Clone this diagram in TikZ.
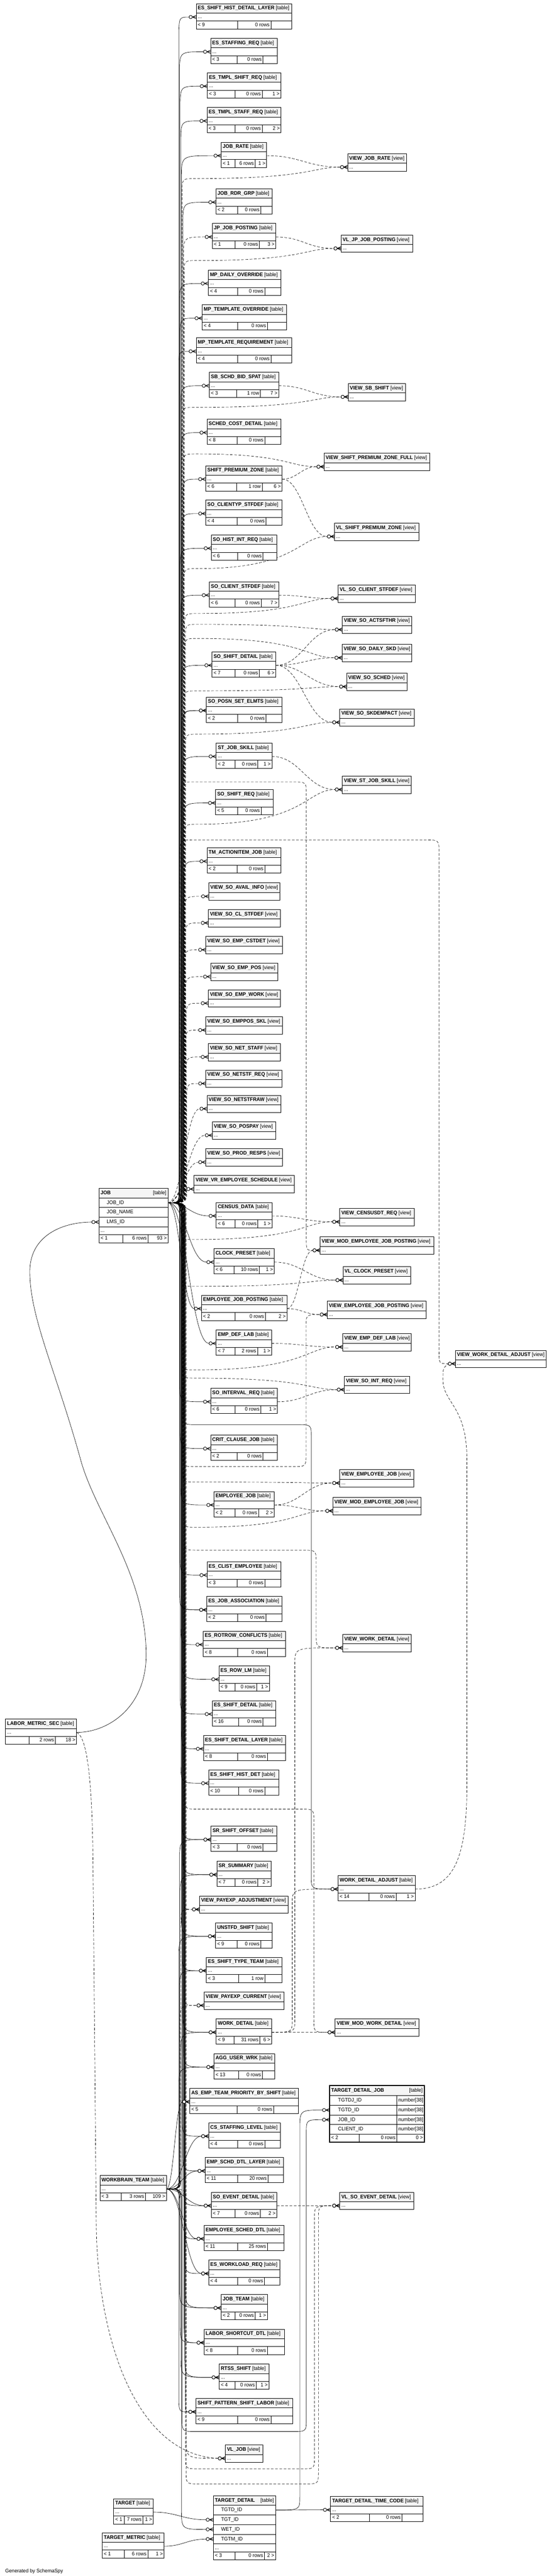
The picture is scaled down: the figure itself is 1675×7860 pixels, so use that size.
\documentclass[tikz,border=0pt]{standalone}
\usepackage{fontspec}
\usetikzlibrary{calc}
\newfontfamily\schemafont{Liberation Sans}[FakeStretch=0.95]

\newlength{\du}
\setlength{\du}{0.01cm}

\pgfdeclarelayer{background}
\pgfdeclarelayer{edges}
\pgfsetlayers{background,edges,main}

\tikzset{
  ssbox/.style={draw, line width=1.2\du, inner sep=0pt, outer sep=0pt, anchor=north west},
  sshead/.style={ssbox, fill=headgray, minimum height=29\du},
  ssrow/.style={ssbox, fill=white, minimum height=24\du},
  sscol/.style={ssbox, fill=white, minimum height=29.5\du},
  sstext/.style={inner sep=0pt, outer sep=0pt, font={\schemafont\fontsize{4.5pt}{5.4pt}\selectfont}, text height=3.3pt, text depth=0.9pt},
  rel/.style={line width=1\du},
  implied/.style={line width=1\du, dash pattern=on 8\du off 5\du},
}

% header + "..." row
\newcommand{\sshdr}[5]{%
  \node[sshead, minimum width=#5\du] (#1) at (#4) {};
  \node[sstext, anchor=west] (#1-t) at ([xshift=5\du]#1.west) {\textbf{#2} [#3]};
  \node[ssrow, minimum width=#5\du] (#1-b) at (#1.south west) {};
  \node[sstext, anchor=west] (#1-d) at ([xshift=5\du]#1-b.west) {...};
}
% footer row
\newcommand{\ssfoot}[6]{%
  \coordinate (#1-f) at (#1-b.south west);
  \draw[line width=1.2\du, fill=white] (#1-f) rectangle ($(#1-b.south east)+(0,24)$);
  \draw[line width=1.2\du] ($(#1-f)+(#2,0)$) -- +(0,24) ($(#1-f)+(#3,0)$) -- +(0,24);
  \node[sstext, anchor=west] (#1-fl) at ($(#1-f)+(5,12)$) {#4};
  \node[sstext, anchor=east] (#1-fm) at ($(#1-f)+(#3-4,12)$) {#5};
  \node[sstext, anchor=east] (#1-fr) at ($(#1-b.south east)+(-4,12)$) {#6};
}
% zero-or-many end
\newcommand{\crowin}[1]{%
  \draw[fill=white] ([xshift=-17\du]#1) circle (5\du);
  \draw ([xshift=-12\du]#1) -- ([yshift=5\du]#1)
        ([xshift=-12\du]#1) -- (#1)
        ([xshift=-12\du]#1) -- ([yshift=-5\du]#1);
}
\newcommand{\nearedge}[3]{%
  \coordinate (ne) at ([xshift=-22\du]#2.west);
  \draw[#3] (#1) .. controls ($(#1)!.45!(ne |- #1)$) and ($(ne)!.45!(#1 |- ne)$) .. (ne);
  \crowin{#2.west}
}
\newcommand{\trunkedge}[6]{%
  \coordinate (ne) at ([xshift=-22\du]#2.west);
  \coordinate (tk) at (#3,0);
  \draw[#6] (#1) .. controls (tk |- #1) .. ($(tk |- #1)+(0,40*#4)$)
    -- ($(tk |- ne)-(0,#5*#4)$) .. controls (tk |- ne) .. (ne);
  \crowin{#2.west}
}
\newcommand{\levedge}[6]{%
  \coordinate (ne) at ([xshift=-22\du]#2.west);
  \coordinate (tk) at (#3,#5);
  \draw[#6] (#1) .. controls (tk |- #1) .. ($(tk |- #1)+(0,40*#4)$)
    -- ($(tk)-(0,40*#4)$) .. controls (tk) .. ($(tk)+(40,0)$)
    .. controls ($(ne |- tk)+(-90,0)$) and ($(ne)+(-90,0)$) .. (ne);
  \crowin{#2.west}
}
\newcommand{\routeedge}[8]{%
  \coordinate (ne) at ([xshift=-22\du]#2.west);
  \coordinate (tk) at (#3,#4);
  \coordinate (rk) at (#5,#4);
  \draw[#8] (#1) .. controls (tk |- #1) .. ($(tk |- #1)+(0,40*#6)$)
    -- ($(tk)-(0,40*#6)$) .. controls (tk) .. ($(tk)+(40,0)$)
    -- ($(rk)-(40,0)$) .. controls (rk) .. ($(rk)+(0,40*#7)$)
    -- ($(rk |- ne)-(0,40*#7)$) .. controls (rk |- ne) .. (ne);
  \crowin{#2.west}
}

\begin{document}
\begin{tikzpicture}[x=1\du, y=-1\du, line width=1\du]
\definecolor{headgray}{rgb}{0.960784, 0.960784, 0.960784}
\useasboundingbox (0,0) rectangle (1675,7860);
\begin{pgfonlayer}{background}
\fill[white] (0,0) rectangle (1675,7860);
\end{pgfonlayer}

\sshdr{eshdl}{ES\_SHIFT\_HIST\_DETAIL\_LAYER}{table}{599,11}{292}
\ssfoot{eshdl}{126}{228}{< 9}{0 rows}{}
\sshdr{esstaff}{ES\_STAFFING\_REQ}{table}{643,117}{203}
\ssfoot{esstaff}{81}{160}{< 3}{0 rows}{}
\sshdr{estsr}{ES\_TMPL\_SHIFT\_REQ}{table}{633,222}{224}
\ssfoot{estsr}{84}{167}{< 3}{0 rows}{1 >}
\sshdr{estst}{ES\_TMPL\_STAFF\_REQ}{table}{632,328}{226}
\ssfoot{estst}{85}{168}{< 3}{0 rows}{2 >}
\sshdr{jobrate}{JOB\_RATE}{table}{675,434}{139}
\ssfoot{jobrate}{42}{104}{< 1}{6 rows}{1 >}
\sshdr{vjobrate}{VIEW\_JOB\_RATE}{view}{1061,469}{180}
\sshdr{jobrdr}{JOB\_RDR\_GRP}{table}{659,576}{172}
\ssfoot{jobrdr}{66}{137}{< 2}{0 rows}{}
\sshdr{jpjob}{JP\_JOB\_POSTING}{table}{648,682}{194}
\ssfoot{jpjob}{69}{144}{< 1}{0 rows}{3 >}
\sshdr{vljpjob}{VL\_JP\_JOB\_POSTING}{view}{1041,717}{218}
\sshdr{mpdaily}{MP\_DAILY\_OVERRIDE}{table}{636,824}{221}
\ssfoot{mpdaily}{89}{172}{< 4}{0 rows}{}
\sshdr{mptmplov}{MP\_TEMPLATE\_OVERRIDE}{table}{617,930}{257}
\ssfoot{mptmplov}{108}{199}{< 4}{0 rows}{}
\sshdr{mptmplreq}{MP\_TEMPLATE\_REQUIREMENT}{table}{599,1031}{292}
\ssfoot{mptmplreq}{126}{228}{< 4}{0 rows}{}
\sshdr{sbbid}{SB\_SCHD\_BID\_SPAT}{table}{639,1136}{212}
\ssfoot{sbbid}{83}{156}{< 3}{1 row}{7 >}
\sshdr{vsbshift}{VIEW\_SB\_SHIFT}{view}{1063,1170}{174}
\sshdr{schedcost}{SCHED\_COST\_DETAIL}{table}{632,1279}{225}
\ssfoot{schedcost}{92}{176}{< 8}{0 rows}{}
\sshdr{vspzfull}{VIEW\_SHIFT\_PREMIUM\_ZONE\_FULL}{view}{989,1383}{322}
\sshdr{spz}{SHIFT\_PREMIUM\_ZONE}{table}{628,1421}{233}
\ssfoot{spz}{94}{172}{< 6}{1 row}{6 >}
\sshdr{soclityp}{SO\_CLIENTYP\_STFDEF}{table}{628,1526}{233}
\ssfoot{soclityp}{96}{184}{< 4}{0 rows}{}
\sshdr{vlspz}{VL\_SHIFT\_PREMIUM\_ZONE}{view}{1021,1596}{258}
\sshdr{sohist}{SO\_HIST\_INT\_REQ}{table}{645,1632}{200}
\ssfoot{sohist}{80}{158}{< 6}{0 rows}{}
\sshdr{soclient}{SO\_CLIENT\_STFDEF}{table}{639,1775}{212}
\ssfoot{soclient}{78}{158}{< 6}{0 rows}{7 >}
\sshdr{vlsoclient}{VL\_SO\_CLIENT\_STFDEF}{view}{1032,1785}{235}
\sshdr{vactsfthr}{VIEW\_SO\_ACTSFTHR}{view}{1045,1880}{211}
\sshdr{vdailyskd}{VIEW\_SO\_DAILY\_SKD}{view}{1044,1966}{212}
\sshdr{soshiftdet}{SO\_SHIFT\_DETAIL}{table}{647,1989}{195}
\ssfoot{soshiftdet}{70}{145}{< 7}{0 rows}{6 >}
\sshdr{vsosched}{VIEW\_SO\_SCHED}{view}{1058,2054}{184}
\sshdr{soposn}{SO\_POSN\_SET\_ELMTS}{table}{630,2127}{231}
\ssfoot{soposn}{95}{182}{< 2}{0 rows}{}
\sshdr{vskdempact}{VIEW\_SO\_SKDEMPACT}{view}{1037,2163}{228}
\sshdr{stjob}{ST\_JOB\_SKILL}{table}{660,2267}{170}
\ssfoot{stjob}{57}{127}{< 2}{0 rows}{1 >}
\sshdr{vstjob}{VIEW\_ST\_JOB\_SKILL}{view}{1045,2368}{210}
\sshdr{soshiftreq}{SO\_SHIFT\_REQ}{table}{658,2409}{175}
\ssfoot{soshiftreq}{67}{139}{< 5}{0 rows}{}
\sshdr{tmaction}{TM\_ACTIONITEM\_JOB}{table}{632,2587}{225}
\ssfoot{tmaction}{92}{176}{< 2}{0 rows}{}
\sshdr{vavail}{VIEW\_SO\_AVAIL\_INFO}{view}{637,2694}{217}
\sshdr{vclstf}{VIEW\_SO\_CL\_STFDEF}{view}{636,2775}{219}
\sshdr{vempcst}{VIEW\_SO\_EMP\_CSTDET}{view}{628,2857}{234}
\sshdr{vemppos}{VIEW\_SO\_EMP\_POS}{view}{643,2939}{205}
\sshdr{vempwork}{VIEW\_SO\_EMP\_WORK}{view}{636,3020}{219}
\sshdr{vempposskl}{VIEW\_SO\_EMPPOS\_SKL}{view}{628,3102}{234}
\sshdr{vnetstaff}{VIEW\_SO\_NET\_STAFF}{view}{636,3184}{219}
\sshdr{vnetstfreq}{VIEW\_SO\_NETSTF\_REQ}{view}{628,3265}{233}
\sshdr{vnetstfraw}{VIEW\_SO\_NETSTFRAW}{view}{632,3342}{225}
\sshdr{vpospay}{VIEW\_SO\_POSPAY}{view}{648,3423}{193}
\sshdr{vprodresps}{VIEW\_SO\_PROD\_RESPS}{view}{628,3505}{234}
\sshdr{vvremp}{VIEW\_VR\_EMPLOYEE\_SCHEDULE}{view}{592,3587}{306}

% JOB
\node[sshead, minimum width=211\du, minimum height=30\du] (job) at (302,3625) {};
\node[sstext, anchor=west] (job-t) at ([xshift=5\du]job.west) {\textbf{JOB}};
\node[sstext, anchor=east] (job-k) at ([xshift=-5\du]job.east) {[table]};
\node[sscol, minimum width=211\du] (job-id) at (job.south west) {};
\node[sstext, anchor=west] (job-id-t) at ([xshift=24\du]job-id.west) {JOB\_ID};
\node[sscol, minimum width=211\du] (job-name) at (job-id.south west) {};
\node[sstext, anchor=west] (job-name-t) at ([xshift=24\du]job-name.west) {JOB\_NAME};
\node[sscol, minimum width=211\du] (job-lms) at (job-name.south west) {};
\node[sstext, anchor=west] (job-lms-t) at ([xshift=24\du]job-lms.west) {LMS\_ID};
\node[ssrow, minimum width=211\du] (job-b) at (job-lms.south west) {};
\node[sstext, anchor=west] (job-d) at ([xshift=5\du]job-b.west) {...};
\ssfoot{job}{73}{150}{< 1}{6 rows}{93 >}

\sshdr{census}{CENSUS\_DATA}{table}{660,3669}{170}
\ssfoot{census}{57}{127}{< 6}{0 rows}{1 >}
\sshdr{vcensus}{VIEW\_CENSUSDT\_REQ}{view}{1037,3687}{228}
\sshdr{vmodejp}{VIEW\_MOD\_EMPLOYEE\_JOB\_POSTING}{view}{977,3774}{347}
\sshdr{clock}{CLOCK\_PRESET}{table}{653,3810}{184}
\ssfoot{clock}{61}{139}{< 6}{10 rows}{1 >}
\sshdr{vlclock}{VL\_CLOCK\_PRESET}{view}{1047,3865}{206}
\sshdr{ejp}{EMPLOYEE\_JOB\_POSTING}{table}{615,3952}{261}
\ssfoot{ejp}{102}{195}{< 2}{0 rows}{2 >}
\sshdr{vejp}{VIEW\_EMPLOYEE\_JOB\_POSTING}{view}{999,3970}{302}
\sshdr{empdef}{EMP\_DEF\_LAB}{table}{660,4058}{169}
\ssfoot{empdef}{57}{126}{< 7}{2 rows}{1 >}
\sshdr{vempdef}{VIEW\_EMP\_DEF\_LAB}{view}{1046,4069}{209}
\sshdr{vwda}{VIEW\_WORK\_DETAIL\_ADJUST}{view}{1390,4120}{277}
\sshdr{vsoint}{VIEW\_SO\_INT\_REQ}{view}{1051,4199}{199}
\sshdr{sointerval}{SO\_INTERVAL\_REQ}{table}{643,4236}{204}
\ssfoot{sointerval}{74}{153}{< 6}{0 rows}{1 >}
\sshdr{critclause}{CRIT\_CLAUSE\_JOB}{table}{643,4379}{203}
\ssfoot{critclause}{80}{160}{< 2}{0 rows}{}
\sshdr{vempjob}{VIEW\_EMPLOYEE\_JOB}{view}{1037,4484}{226}
\sshdr{empjob}{EMPLOYEE\_JOB}{table}{653,4551}{184}
\ssfoot{empjob}{64}{136}{< 2}{0 rows}{2 >}
\sshdr{vmodempjob}{VIEW\_MOD\_EMPLOYEE\_JOB}{view}{1016,4569}{269}
\sshdr{esclist}{ES\_CLIST\_EMPLOYEE}{table}{632,4765}{225}
\ssfoot{esclist}{92}{176}{< 3}{0 rows}{}
\sshdr{esjobassoc}{ES\_JOB\_ASSOCIATION}{table}{631,4871}{229}
\ssfoot{esjobassoc}{94}{181}{< 2}{0 rows}{}
\sshdr{esrotrow}{ES\_ROTROW\_CONFLICTS}{table}{620,4977}{252}
\ssfoot{esrotrow}{105}{196}{< 8}{0 rows}{}
\sshdr{vwd}{VIEW\_WORK\_DETAIL}{view}{1046,4987}{209}
\sshdr{esrowlm}{ES\_ROW\_LM}{table}{668,5083}{154}
\ssfoot{esrowlm}{49}{115}{< 9}{0 rows}{1 >}
\sshdr{esshiftdet}{ES\_SHIFT\_DETAIL}{table}{648,5189}{193}
\ssfoot{esshiftdet}{80}{155}{< 16}{0 rows}{}
\sshdr{lms}{LABOR\_METRIC\_SEC}{table}{17,5245}{217}
\ssfoot{lms}{72}{152}{}{2 rows}{18 >}
\sshdr{esshdlayer}{ES\_SHIFT\_DETAIL\_LAYER}{table}{621,5295}{250}
\ssfoot{esshdlayer}{104}{195}{< 8}{0 rows}{}
\sshdr{esshhist}{ES\_SHIFT\_HIST\_DET}{table}{637,5400}{214}
\ssfoot{esshhist}{91}{171}{< 10}{0 rows}{}
\sshdr{sroffset}{SR\_SHIFT\_OFFSET}{table}{644,5572}{201}
\ssfoot{sroffset}{80}{159}{< 3}{0 rows}{}
\sshdr{srsummary}{SR\_SUMMARY}{table}{662,5679}{165}
\ssfoot{srsummary}{55}{125}{< 7}{0 rows}{2 >}
\sshdr{wda}{WORK\_DETAIL\_ADJUST}{table}{1032,5723}{235}
\ssfoot{wda}{94}{177}{< 14}{0 rows}{1 >}
\sshdr{vpayadj}{VIEW\_PAYEXP\_ADJUSTMENT}{view}{609,5785}{271}
\sshdr{unstfd}{UNSTFD\_SHIFT}{table}{658,5867}{173}
\ssfoot{unstfd}{66}{138}{< 9}{0 rows}{}
\sshdr{esshtype}{ES\_SHIFT\_TYPE\_TEAM}{table}{630,5972}{230}
\ssfoot{esshtype}{98}{178}{< 3}{1 row}{}
\sshdr{vpaycur}{VIEW\_PAYEXP\_CURRENT}{view}{623,6078}{243}
\sshdr{workdet}{WORK\_DETAIL}{table}{660,6160}{169}
\ssfoot{workdet}{54}{133}{< 9}{31 rows}{6 >}
\sshdr{vmodwd}{VIEW\_MOD\_WORK\_DETAIL}{view}{1023,6160}{255}
\sshdr{agguser}{AGG\_USER\_WRK}{table}{653,6266}{186}
\ssfoot{agguser}{75}{148}{< 13}{0 rows}{}
\sshdr{asemp}{AS\_EMP\_TEAM\_PRIORITY\_BY\_SHIFT}{table}{579,6372}{332}
\ssfoot{asemp}{145}{256}{< 5}{0 rows}{}

% TARGET_DETAIL_JOB
\node[sshead, minimum width=289\du, minimum height=30\du] (tdj) at (1006,6364) {};
\node[sstext, anchor=west] (tdj-t) at ([xshift=5\du]tdj.west) {\textbf{TARGET\_DETAIL\_JOB}};
\node[sstext, anchor=east] (tdj-k) at ([xshift=-5\du]tdj.east) {[table]};
\node[sscol, minimum width=289\du] (tdj-tgtdj) at (tdj.south west) {};
\node[sstext, anchor=west] (tdj-tgtdj-t) at ([xshift=26\du]tdj-tgtdj.west) {TGTDJ\_ID};
\node[sstext, anchor=east] (tdj-tgtdj-y) at ([xshift=-3\du]tdj-tgtdj.east) {number[38]};
\node[sscol, minimum width=289\du] (tdj-tgtd) at (tdj-tgtdj.south west) {};
\node[sstext, anchor=west] (tdj-tgtd-t) at ([xshift=26\du]tdj-tgtd.west) {TGTD\_ID};
\node[sstext, anchor=east] (tdj-tgtd-y) at ([xshift=-3\du]tdj-tgtd.east) {number[38]};
\node[sscol, minimum width=289\du] (tdj-job) at (tdj-tgtd.south west) {};
\node[sstext, anchor=west] (tdj-job-t) at ([xshift=26\du]tdj-job.west) {JOB\_ID};
\node[sstext, anchor=east] (tdj-job-y) at ([xshift=-3\du]tdj-job.east) {number[38]};
\node[sscol, minimum width=289\du] (tdj-b) at (tdj-job.south west) {};
\node[sstext, anchor=west] (tdj-b-t) at ([xshift=26\du]tdj-b.west) {CLIENT\_ID};
\node[sstext, anchor=east] (tdj-b-y) at ([xshift=-3\du]tdj-b.east) {number[38]};
\draw[line width=1.2\du] ($(tdj-tgtdj.north west)+(205,0)$) -- ($(tdj-b.south west)+(205,0)$);
\ssfoot{tdj}{90}{205}{< 2}{0 rows}{0 >}
\draw[line width=3\du] (tdj.north west) rectangle ($(tdj-b.south east)+(0,24)$);

\sshdr{csstaff}{CS\_STAFFING\_LEVEL}{table}{637,6477}{218}
\ssfoot{csstaff}{88}{171}{< 4}{0 rows}{}
\sshdr{empschd}{EMP\_SCHD\_DTL\_LAYER}{table}{626,6583}{239}
\ssfoot{empschd}{99}{192}{< 11}{20 rows}{}
\sshdr{wbt}{WORKBRAIN\_TEAM}{table}{305,6638}{203}
\ssfoot{wbt}{65}{139}{< 3}{3 rows}{109 >}
\sshdr{soevent}{SO\_EVENT\_DETAIL}{table}{645,6689}{200}
\ssfoot{soevent}{72}{150}{< 7}{0 rows}{2 >}
\sshdr{vlsoevent}{VL\_SO\_EVENT\_DETAIL}{view}{1037,6689}{226}
\sshdr{empsched}{EMPLOYEE\_SCHED\_DTL}{table}{623,6790}{243}
\ssfoot{empsched}{102}{193}{< 11}{25 rows}{}
\sshdr{esworkload}{ES\_WORKLOAD\_REQ}{table}{637,6896}{217}
\ssfoot{esworkload}{88}{170}{< 4}{0 rows}{}
\sshdr{jobteam}{JOB\_TEAM}{table}{675,7001}{141}
\ssfoot{jobteam}{42}{104}{< 2}{0 rows}{1 >}
\sshdr{laborshort}{LABOR\_SHORTCUT\_DTL}{table}{623,7107}{246}
\ssfoot{laborshort}{102}{193}{< 8}{0 rows}{}
\sshdr{rtss}{RTSS\_SHIFT}{table}{669,7213}{152}
\ssfoot{rtss}{48}{113}{< 4}{0 rows}{1 >}
\sshdr{sps}{SHIFT\_PATTERN\_SHIFT\_LABOR}{table}{598,7318}{295}
\ssfoot{sps}{127}{229}{< 9}{0 rows}{}
\sshdr{vljob}{VL\_JOB}{view}{688,7460}{114}
\sshdr{target}{TARGET}{table}{347,7624}{121}
\ssfoot{target}{33}{89}{< 1}{7 rows}{1 >}

% TARGET_DETAIL
\node[sshead, minimum width=190\du, minimum height=28\du] (td) at (651,7616) {};
\node[sstext, anchor=west] (td-t) at ([xshift=5\du]td.west) {\textbf{TARGET\_DETAIL}};
\node[sstext, anchor=east] (td-k) at ([xshift=-5\du]td.east) {[table]};
\node[sscol, minimum width=190\du] (td-tgtd) at (td.south west) {};
\node[sstext, anchor=west] (td-tgtd-t) at ([xshift=24\du]td-tgtd.west) {TGTD\_ID};
\node[sscol, minimum width=190\du] (td-tgt) at (td-tgtd.south west) {};
\node[sstext, anchor=west] (td-tgt-t) at ([xshift=24\du]td-tgt.west) {TGT\_ID};
\node[sscol, minimum width=190\du] (td-wet) at (td-tgt.south west) {};
\node[sstext, anchor=west] (td-wet-t) at ([xshift=24\du]td-wet.west) {WET\_ID};
\node[sscol, minimum width=190\du] (td-tgtm) at (td-wet.south west) {};
\node[sstext, anchor=west] (td-tgtm-t) at ([xshift=24\du]td-tgtm.west) {TGTM\_ID};
\node[ssrow, minimum width=190\du] (td-b) at (td-tgtm.south west) {};
\node[sstext, anchor=west] (td-d) at ([xshift=5\du]td-b.west) {...};
\ssfoot{td}{66}{156}{< 3}{0 rows}{2 >}

\sshdr{tdtc}{TARGET\_DETAIL\_TIME\_CODE}{table}{1009,7617}{282}
\ssfoot{tdtc}{118}{218}{< 2}{0 rows}{}
\sshdr{tmetric}{TARGET\_METRIC}{table}{312,7728}{189}
\ssfoot{tmetric}{68}{139}{< 1}{6 rows}{1 >}

\node[sstext, anchor=west] (gen) at (16,7846) {Generated by SchemaSpy};

\begin{pgfonlayer}{edges}
% JOB, upwards
\trunkedge{job-id.east}{eshdl-b}{546}{-1}{65}{rel}
\trunkedge{job-id.east}{esstaff-b}{548}{-1}{65}{rel}
\trunkedge{job-id.east}{estsr-b}{550}{-1}{65}{rel}
\trunkedge{job-id.east}{estst-b}{552}{-1}{65}{rel}
\trunkedge{job-id.east}{jobrate-b}{554}{-1}{65}{rel}
\levedge{job-id.east}{vjobrate-b}{556}{-1}{545}{implied}
\trunkedge{job-id.east}{jobrdr-b}{558}{-1}{65}{rel}
\trunkedge{job-id.east}{jpjob-b}{560}{-1}{65}{implied}
\levedge{job-id.east}{vljpjob-b}{562}{-1}{795}{implied}
\trunkedge{job-id.east}{mpdaily-b}{548}{-1}{65}{rel}
\trunkedge{job-id.east}{mptmplov-b}{550}{-1}{55}{rel}
\trunkedge{job-id.east}{mptmplreq-b}{546}{-1}{45}{rel}
\trunkedge{job-id.east}{sbbid-b}{552}{-1}{65}{rel}
\levedge{job-id.east}{vsbshift-b}{556}{-1}{1243}{implied}
\trunkedge{job-id.east}{schedcost-b}{554}{-1}{65}{rel}
\trunkedge{job-id.east}{spz-b}{558}{-1}{65}{rel}
\levedge{job-id.east}{vspzfull-b}{560}{-1}{1385}{implied}
\trunkedge{job-id.east}{soclityp-b}{556}{-1}{65}{rel}
\levedge{job-id.east}{vlspz-b}{562}{-1}{1735}{implied}
\trunkedge{job-id.east}{sohist-b}{550}{-1}{65}{rel}
\trunkedge{job-id.east}{soclient-b}{552}{-1}{65}{rel}
\levedge{job-id.east}{vlsoclient-b}{564}{-1}{1872}{implied}
\levedge{job-id.east}{vactsfthr-b}{566}{-1}{1905}{implied}
\levedge{job-id.east}{vdailyskd-b}{564}{-1}{1948}{implied}
\trunkedge{job-id.east}{soshiftdet-b}{554}{-1}{65}{rel}
\levedge{job-id.east}{vsosched-b}{562}{-1}{2108}{implied}
\trunkedge{job-id.east}{soposn-b}{556}{-1}{65}{rel}
\trunkedge{job-id.east}{soposn-b}{560}{-1}{50}{rel}
\levedge{job-id.east}{vskdempact-b}{566}{-1}{2240}{implied}
\trunkedge{job-id.east}{stjob-b}{558}{-1}{65}{rel}
\levedge{job-id.east}{vstjob-b}{564}{-1}{2515}{implied}
\trunkedge{job-id.east}{soshiftreq-b}{560}{-1}{65}{rel}
\trunkedge{job-id.east}{tmaction-b}{562}{-1}{65}{rel}
\trunkedge{job-id.east}{vavail-b}{564}{-1}{55}{implied}
\trunkedge{job-id.east}{vclstf-b}{566}{-1}{55}{implied}
\trunkedge{job-id.east}{vempcst-b}{564}{-1}{55}{implied}
\trunkedge{job-id.east}{vemppos-b}{566}{-1}{55}{implied}
\trunkedge{job-id.east}{vempwork-b}{568}{-1}{55}{implied}
\trunkedge{job-id.east}{vempposskl-b}{566}{-1}{55}{implied}
\trunkedge{job-id.east}{vnetstaff-b}{568}{-1}{55}{implied}
\trunkedge{job-id.east}{vnetstfreq-b}{570}{-1}{55}{implied}
\nearedge{job-id.east}{vnetstfraw-b}{implied}
\nearedge{job-id.east}{vpospay-b}{implied}
\nearedge{job-id.east}{vprodresps-b}{implied}
\nearedge{job-id.east}{vvremp-b}{implied}
\routeedge{job-id.east}{vmodejp-b}{552}{2386}{935}{-1}{1}{implied}
\routeedge{job-id.east}{vwda-b}{550}{2563}{1340}{-1}{1}{implied}

% JOB, downwards
\nearedge{job-id.east}{census-b}{rel}
\levedge{job-id.east}{vcensus-b}{552}{1}{3782}{implied}
\nearedge{job-id.east}{clock-b}{rel}
\levedge{job-id.east}{vlclock-b}{556}{1}{3925}{implied}
\nearedge{job-id.east}{ejp-b}{rel}
\nearedge{job-id.east}{empdef-b}{rel}
\levedge{job-id.east}{vempdef-b}{554}{1}{4180}{implied}
\levedge{job-id.east}{vsoint-b}{556}{1}{4205}{implied}
\trunkedge{job-id.east}{sointerval-b}{548}{1}{65}{rel}
\trunkedge{job-id.east}{critclause-b}{550}{1}{65}{rel}
\levedge{job-id.east}{vempjob-b}{558}{1}{4522}{implied}
\trunkedge{job-id.east}{empjob-b}{552}{1}{65}{rel}
\levedge{job-id.east}{vmodempjob-b}{560}{1}{4660}{implied}
\trunkedge{job-id.east}{esclist-b}{550}{1}{65}{rel}
\trunkedge{job-id.east}{esjobassoc-b}{548}{1}{65}{rel}
\trunkedge{job-id.east}{esjobassoc-b}{554}{1}{50}{rel}
\trunkedge{job-id.east}{esrotrow-b}{552}{1}{65}{rel}
\trunkedge{job-id.east}{esrowlm-b}{556}{1}{65}{rel}
\trunkedge{job-id.east}{esshiftdet-b}{550}{1}{65}{rel}
\trunkedge{job-id.east}{esshdlayer-b}{554}{1}{65}{rel}
\trunkedge{job-id.east}{esshhist-b}{552}{1}{65}{rel}
\trunkedge{job-id.east}{sroffset-b}{556}{1}{65}{rel}
\trunkedge{job-id.east}{srsummary-b}{558}{1}{65}{rel}
\trunkedge{job-id.east}{vpayadj-b}{560}{1}{50}{implied}
\trunkedge{job-id.east}{unstfd-b}{554}{1}{65}{rel}
\trunkedge{job-id.east}{esshtype-b}{556}{1}{65}{rel}
\trunkedge{job-id.east}{vpaycur-b}{562}{1}{50}{implied}
\trunkedge{job-id.east}{workdet-b}{558}{1}{65}{rel}
\trunkedge{job-id.east}{agguser-b}{560}{1}{65}{rel}
\trunkedge{job-id.east}{asemp-b}{562}{1}{50}{rel}
\trunkedge{job-id.east}{csstaff-b}{556}{1}{65}{rel}
\trunkedge{job-id.east}{empschd-b}{558}{1}{65}{rel}
\trunkedge{job-id.east}{soevent-b}{560}{1}{65}{rel}
\trunkedge{job-id.east}{empsched-b}{562}{1}{65}{rel}
\trunkedge{job-id.east}{esworkload-b}{564}{1}{65}{rel}
\trunkedge{job-id.east}{jobteam-b}{566}{1}{65}{rel}
\trunkedge{job-id.east}{laborshort-b}{562}{1}{65}{rel}
\trunkedge{job-id.east}{rtss-b}{564}{1}{65}{rel}
\trunkedge{job-id.east}{sps-b}{566}{1}{45}{rel}
\trunkedge{job-id.east}{vljob-b}{568}{1}{60}{implied}
\routeedge{job-id.east}{vejp-b}{558}{4475}{934}{1}{-1}{implied}
\routeedge{job-id.east}{wda-b}{560}{4347}{950}{1}{1}{rel}
\routeedge{job-id.east}{vwd-b}{562}{4730}{965}{1}{1}{implied}
\routeedge{job-id.east}{vmodwd-b}{564}{5520}{958}{1}{1}{implied}
\routeedge{job-id.east}{vlsoevent-b}{566}{7533}{960}{1}{-1}{implied}
\routeedge{job-id.east}{tdj-job}{556}{7419}{935}{1}{-1}{rel}

% WORKBRAIN_TEAM
\trunkedge{wbt-b.east}{sroffset-b}{548}{-1}{65}{rel}
\trunkedge{wbt-b.east}{srsummary-b}{550}{-1}{65}{rel}
\trunkedge{wbt-b.east}{vpayadj-b}{552}{-1}{50}{implied}
\trunkedge{wbt-b.east}{unstfd-b}{546}{-1}{65}{rel}
\trunkedge{wbt-b.east}{esshtype-b}{548}{-1}{65}{rel}
\trunkedge{wbt-b.east}{vpaycur-b}{550}{-1}{50}{implied}
\trunkedge{wbt-b.east}{workdet-b}{552}{-1}{65}{rel}
\trunkedge{wbt-b.east}{agguser-b}{546}{-1}{65}{rel}
\nearedge{wbt-b.east}{asemp-b}{rel}
\nearedge{wbt-b.east}{csstaff-b}{rel}
\nearedge{wbt-b.east}{empschd-b}{rel}
\nearedge{wbt-b.east}{soevent-b}{rel}
\nearedge{wbt-b.east}{empsched-b}{rel}
\nearedge{wbt-b.east}{esworkload-b}{rel}
\trunkedge{wbt-b.east}{jobteam-b}{548}{1}{65}{rel}
\trunkedge{wbt-b.east}{laborshort-b}{550}{1}{65}{rel}
\trunkedge{wbt-b.east}{rtss-b}{552}{1}{65}{rel}
\trunkedge{wbt-b.east}{sps-b}{546}{1}{45}{rel}
\trunkedge{wbt-b.east}{td-wet}{554}{1}{60}{rel}
\routeedge{wbt-b.east}{vlsoevent-b}{568}{7579}{972}{1}{-1}{implied}

% tables to views
\nearedge{jobrate-b.east}{vjobrate-b}{implied}
\nearedge{jpjob-b.east}{vljpjob-b}{implied}
\nearedge{sbbid-b.east}{vsbshift-b}{implied}
\nearedge{spz-b.east}{vspzfull-b}{implied}
\nearedge{spz-b.east}{vlspz-b}{implied}
\nearedge{soclient-b.east}{vlsoclient-b}{implied}
\nearedge{soshiftdet-b.east}{vactsfthr-b}{implied}
\nearedge{soshiftdet-b.east}{vdailyskd-b}{implied}
\nearedge{soshiftdet-b.east}{vsosched-b}{implied}
\nearedge{soshiftdet-b.east}{vskdempact-b}{implied}
\nearedge{stjob-b.east}{vstjob-b}{implied}
\nearedge{census-b.east}{vcensus-b}{implied}
\nearedge{clock-b.east}{vlclock-b}{implied}
\nearedge{ejp-b.east}{vmodejp-b}{implied}
\nearedge{ejp-b.east}{vejp-b}{implied}
\nearedge{empdef-b.east}{vempdef-b}{implied}
\nearedge{sointerval-b.east}{vsoint-b}{implied}
\nearedge{empjob-b.east}{vempjob-b}{implied}
\nearedge{empjob-b.east}{vmodempjob-b}{implied}
\nearedge{workdet-b.east}{vmodwd-b}{implied}
\nearedge{soevent-b.east}{vlsoevent-b}{implied}
\trunkedge{workdet-b.east}{vwd-b}{900}{-1}{50}{implied}
\trunkedge{workdet-b.east}{wda-b}{892}{-1}{45}{implied}
\coordinate (ne) at ([xshift=-22\du]vwda-b.west);
\draw[implied] (wda-b.east) .. controls (1380,5764) and (1425,5680) .. (1425,5450) -- (1425,4450)
  .. controls (1425,4290) and (1352,4280) .. (1352,4210) .. controls (1352,4175) .. (ne);
\crowin{vwda-b.west}

% LABOR_METRIC_SEC
\coordinate (ne) at ([xshift=-22\du]job-lms.west);
\draw[rel] (lms-b.east) .. controls (330,5286) and (446,5210) .. (446,5050)
  .. controls (446,4800) and (290,4620) .. (245,4450)
  .. controls (170,4180) and (91,4020) .. (91,3880)
  .. controls (91,3770) and (190,3729) .. (ne);
\crowin{job-lms.west}
\coordinate (ne) at ([xshift=-22\du]vljob-b.west);
\draw[implied] (lms-b.east) .. controls (265,5300) and (282,5420) .. (284,5700) -- (294,6800)
  .. controls (300,7150) and (420,7490) .. (ne);
\crowin{vljob-b.west}

% TARGET tables
\nearedge{target-b.east}{td-tgt}{rel}
\nearedge{tmetric-b.east}{td-tgtm}{rel}
\nearedge{td-tgtd.east}{tdtc-b}{rel}
\trunkedge{td-tgtd.east}{tdj-tgtd}{915}{-1}{60}{rel}
\end{pgfonlayer}
\end{tikzpicture}
\end{document}
